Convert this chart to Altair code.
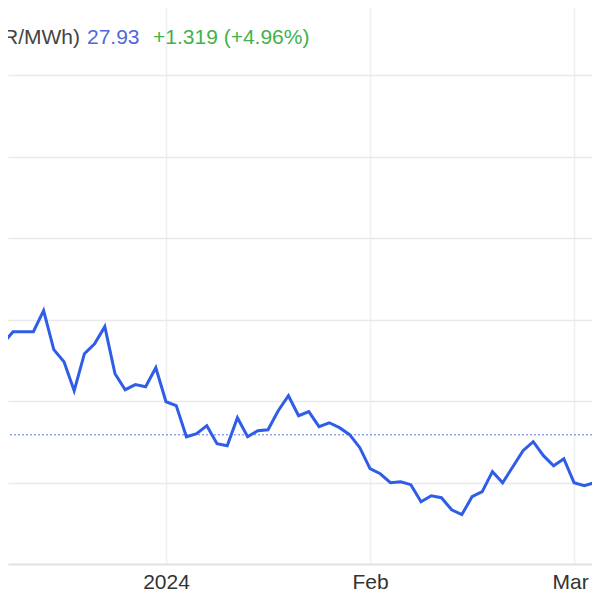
import altair as alt
import pandas as pd

# trading-day position (index) and price (EUR/MWh)
idx = list(range(60))
price = [33.52, 34.26, 34.26, 34.26, 35.55, 33.16, 32.42, 30.64, 32.91, 33.52,
         34.57, 31.68, 30.70, 31.01, 30.88, 32.05, 29.96, 29.72, 27.81, 28.00,
         28.49, 27.38, 27.26, 28.98, 27.81, 28.18, 28.24, 29.41, 30.33, 29.10,
         29.35, 28.43, 28.67, 28.37, 27.94, 27.14, 25.85, 25.54, 24.99, 25.05,
         24.87, 23.82, 24.19, 24.07, 23.33, 23.03, 24.13, 24.44, 25.67, 24.99,
         25.97, 26.96, 27.51, 26.65, 26.03, 26.46, 24.99, 24.81, 24.99, 26.03]

tick_idx = [16, 36, 56]
tick_labels = ["2024", "Feb", "Mar"]
y_grid = [20, 25, 30, 35, 40, 45, 50]
last_price = [27.93]

header_texts = ["(EUR/MWh)", "27.93", "+1.319 (+4.96%)"]
header_colors = ["#444444", "#4f67dc", "#42b24a"]

df = pd.DataFrame({"idx": idx, "price": price})
ref = pd.DataFrame({"price": last_price})

label_expr = " : ".join(
    f"datum.value == {i} ? '{t}'" for i, t in zip(tick_idx, tick_labels)
) + " : ''"

xscale = alt.Scale(domain=[0.51, 57.76], nice=False, zero=False)
yscale = alt.Scale(domain=[20, 54.13], nice=False, zero=False)

line = alt.Chart(df).mark_line(color="#2f5de6", strokeWidth=3, clip=True).encode(
    x=alt.X("idx:Q", scale=xscale,
            axis=alt.Axis(values=tick_idx, labelExpr=label_expr, grid=True,
                          gridColor="#f0f0f0", gridWidth=1.5, ticks=False,
                          domain=True, domainColor="#e3e3e3", domainWidth=2,
                          labelFontSize=21, labelColor="#333333",
                          labelFont="Liberation Sans", labelPadding=7,
                          labelOffset={"condition": {"test": f"datum.value == {tick_idx[-1]}",
                                                     "value": -4},
                                       "value": 0},
                          labelFlush=False, labelOverlap=False, title=None)),
    y=alt.Y("price:Q", scale=yscale,
            axis=alt.Axis(values=y_grid, grid=True, gridColor="#e9e9e9",
                          gridWidth=1.5, labels=False, ticks=False,
                          domain=False, title=None)),
)

rule = alt.Chart(ref).mark_rule(color="#5b7be8", strokeWidth=1,
                                strokeDash=[2, 2]).encode(
    y=alt.Y("price:Q", scale=yscale)
)

hx = [72, 79, 145]
haligns = ["right", "left", "left"]
texts = []
for t, c, xx, al in zip(header_texts, header_colors, hx, haligns):
    texts.append(
        alt.Chart(pd.DataFrame({"t": [t]})).mark_text(
            align=al, baseline="alphabetic", fontSize=21,
            font="Liberation Sans", color=c
        ).encode(x=alt.value(xx), y=alt.value(36), text="t:N")
    )

chart = alt.layer(rule, line, *texts).properties(
    width=584, height=556,
    autosize=alt.AutoSizeParams(type="none"),
    padding={"left": 0, "top": 0, "right": 0, "bottom": 27},
    background="white",
).configure_view(stroke=None)

chart.save("out.html", embed_options={"renderer": "svg", "actions": False})
